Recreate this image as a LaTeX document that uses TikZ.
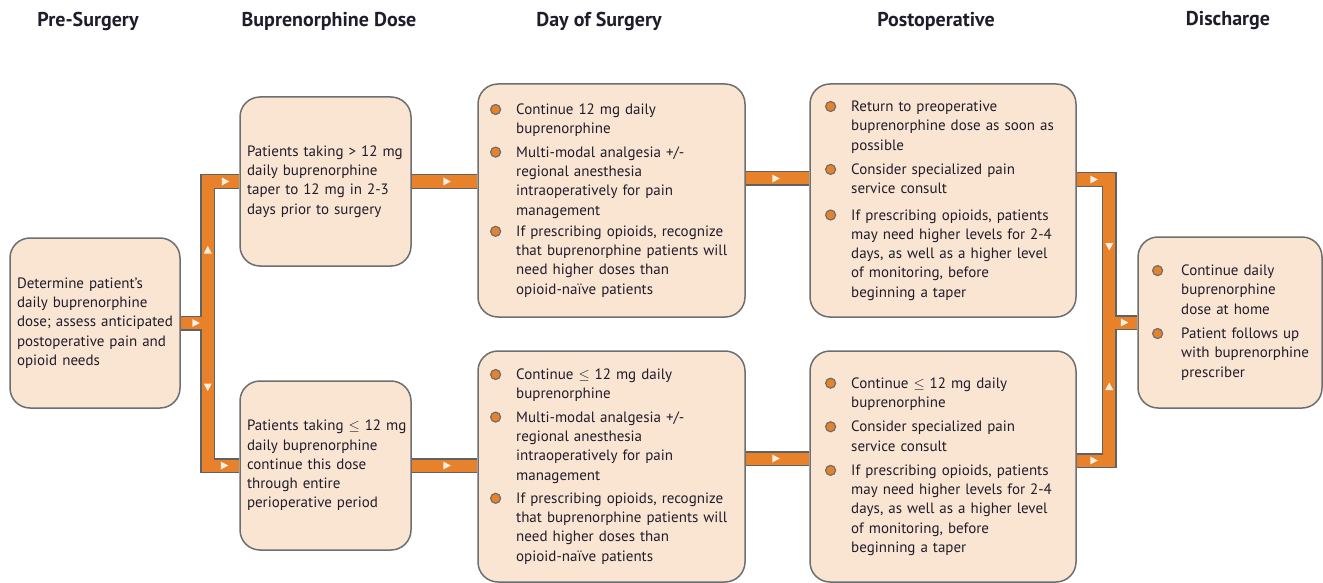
\documentclass[tikz,border=0pt]{standalone}
\usepackage{fontspec}
\setmainfont{PT Sans}
\usetikzlibrary{positioning,backgrounds}
\definecolor{boxfill}{HTML}{FAE5D3}
\definecolor{boxline}{HTML}{6D6E70}
\definecolor{flow}{HTML}{E8822A}
\definecolor{flowedge}{HTML}{606163}
\definecolor{tipfill}{HTML}{FDEEE2}
\definecolor{ink}{HTML}{1F1D2B}
\newcommand{\bul}{\tikz[baseline=-5pt]\filldraw[fill=flow,draw=boxline,line width=1.2pt] (0,0) circle[radius=5pt];}
\tikzset{
    stage/.style={draw=boxline, fill=boxfill, line width=1.5pt, rounded corners=20pt,
      inner xsep=7pt, inner ysep=0pt, align=left, text=ink,
      font=\fontsize{15}{19.3}\selectfont},
    dotstage/.style={stage, inner xsep=12pt},
    header/.style={font=\fontsize{20}{24}\selectfont\bfseries, text=ink},
    tip/.pic={\fill[tipfill] (-3.5,-4) -- (4,0) -- (-3.5,4) -- cycle;}
}

\begin{document}
\begin{tikzpicture}[x=1pt,y=-1pt]
  \useasboundingbox (0,0) rectangle (1323,583);

  \node[header] (hpre) at (88,21) {Pre-Surgery};
  \node[header] (hdose) at (329,21) {Buprenorphine Dose};
  \node[header] (hday) at (599,21) {Day of Surgery};
  \node[header] (hpost) at (936,21) {Postoperative};
  \node[header] (hdis) at (1228,21) {Discharge};

  \node[stage, minimum width=170pt, minimum height=170pt, text width=156pt] (pre) at (95,323)
    {Determine patient’s\\ daily buprenorphine\\ dose; assess anticipated\\ postoperative pain and\\ opioid needs};

  \node[stage, minimum width=171pt, minimum height=169pt, text width=157pt] (dosehi) at (325.5,181.5)
    {Patients taking > 12 mg\\ daily buprenorphine\\ taper to 12 mg in 2-3\\ days prior to surgery};
  \node[stage, minimum width=171pt, minimum height=169pt, text width=157pt] (doselo) at (325.5,465.5)
    {\mbox{Patients taking $\leq$ 12 mg}\\ daily buprenorphine\\ continue this dose\\ through entire\\ perioperative period};

  \node[dotstage, minimum width=267pt, minimum height=233pt, text width=243pt] (dayhi) at (611.5,200.5) {%
    \begin{tabular}{@{}c@{\hspace{15pt}}l@{}}
      \bul & Continue 12 mg daily\\ & buprenorphine\\[4pt]
      \bul & Multi-modal analgesia +/-\\ & regional anesthesia\\ & intraoperatively for pain\\ & management\\[2pt]
      \bul & If prescribing opioids, recognize\\ & that buprenorphine patients will\\ & need higher doses than\\ & opioid-naïve patients
    \end{tabular}};
  \node[dotstage, minimum width=267pt, minimum height=231pt, text width=243pt] (daylo) at (611.5,466.5) {%
    \begin{tabular}{@{}c@{\hspace{15pt}}l@{}}
      \bul & Continue $\leq$ 12 mg daily\\ & buprenorphine\\[4pt]
      \bul & Multi-modal analgesia +/-\\ & regional anesthesia\\ & intraoperatively for pain\\ & management\\[4pt]
      \bul & If prescribing opioids, recognize\\ & that buprenorphine patients will\\ & need higher doses than\\ & opioid-naïve patients
    \end{tabular}};

  \node[dotstage, inner xsep=15pt, minimum width=266pt, minimum height=233pt, text width=236pt] (posthi) at (943,200.5) {%
    \begin{tabular}{@{}c@{\hspace{15pt}}l@{}}
      \bul & Return to preoperative\\ & buprenorphine dose as soon as\\ & possible\\[5pt]
      \bul & Consider specialized pain\\ & service consult\\[7pt]
      \bul & If prescribing opioids, patients\\ & may need higher levels for 2-4\\ & days, as well as a higher level\\ & of monitoring, before\\ & beginning a taper
    \end{tabular}};
  \node[dotstage, inner xsep=15pt, minimum width=266pt, minimum height=231pt, text width=236pt] (postlo) at (943,466.5) {%
    \begin{tabular}{@{}c@{\hspace{15pt}}l@{}}
      \bul & Continue $\leq$ 12 mg daily\\ & buprenorphine\\[5pt]
      \bul & Consider specialized pain\\ & service consult\\[5pt]
      \bul & If prescribing opioids, patients\\ & may need higher levels for 2-4\\ & days, as well as a higher level\\ & of monitoring, before\\ & beginning a taper
    \end{tabular}};

  \node[dotstage, inner xsep=14pt, minimum width=184pt, minimum height=171pt, text width=156pt] (dis) at (1230,322.5) {%
    \begin{tabular}{@{}c@{\hspace{18pt}}l@{}}
      \bul & Continue daily\\ & buprenorphine\\ & dose at home\\[5pt]
      \bul & Patient follows up\\ & with buprenorphine\\ & prescriber
    \end{tabular}};

  \coordinate[right=27pt of pre.east] (lsplit);
  \coordinate[left=28pt of dis.west] (rsplit);

  \begin{scope}[on background layer]
    \foreach \w/\c in {15pt/flowedge, 12pt/flow} {
      \draw[line width=\w, \c] (pre.east) -- (lsplit);
      \draw[line width=\w, \c] (dosehi.west) -| (lsplit) |- (doselo.west);
      \draw[line width=\w, \c] (dosehi.east) -- (dosehi.east -| dayhi.west);
      \draw[line width=\w, \c] (doselo.east) -- (doselo.east -| daylo.west);
      \draw[line width=\w, \c] ([yshift=22pt]dayhi.east) -- ([yshift=22pt]dayhi.east -| posthi.west);
      \draw[line width=\w, \c] ([yshift=8pt]daylo.east) -- ([yshift=8pt]daylo.east -| postlo.west);
      \draw[line width=\w, \c] ([yshift=21pt]posthi.east) -| (rsplit) |- ([yshift=6pt]postlo.east);
      \draw[line width=\w, \c] (rsplit) -- (dis.west);
    }
  \end{scope}

  \pic at ([xshift=15pt]pre.east) {tip};
  \pic at ([xshift=-14pt]dosehi.west) {tip};
  \pic at ([xshift=-15pt]doselo.west) {tip};
  \pic[rotate=90] at ([yshift=73pt]lsplit) {tip};
  \pic[rotate=-90] at ([yshift=-64pt]lsplit) {tip};
  \pic at ([xshift=35pt]dosehi.east) {tip};
  \pic at ([xshift=35pt]doselo.east) {tip};
  \pic at ([xshift=30pt, yshift=22pt]dayhi.east) {tip};
  \pic at ([xshift=30pt, yshift=8pt]daylo.east) {tip};
  \pic at ([xshift=17pt, yshift=21pt]posthi.east) {tip};
  \pic at ([xshift=17pt, yshift=6pt]postlo.east) {tip};
  \pic[rotate=-90] at ([yshift=76pt]rsplit) {tip};
  \pic[rotate=90] at ([yshift=-64pt]rsplit) {tip};
  \pic at ([xshift=15pt]rsplit) {tip};
\end{tikzpicture}
\end{document}
